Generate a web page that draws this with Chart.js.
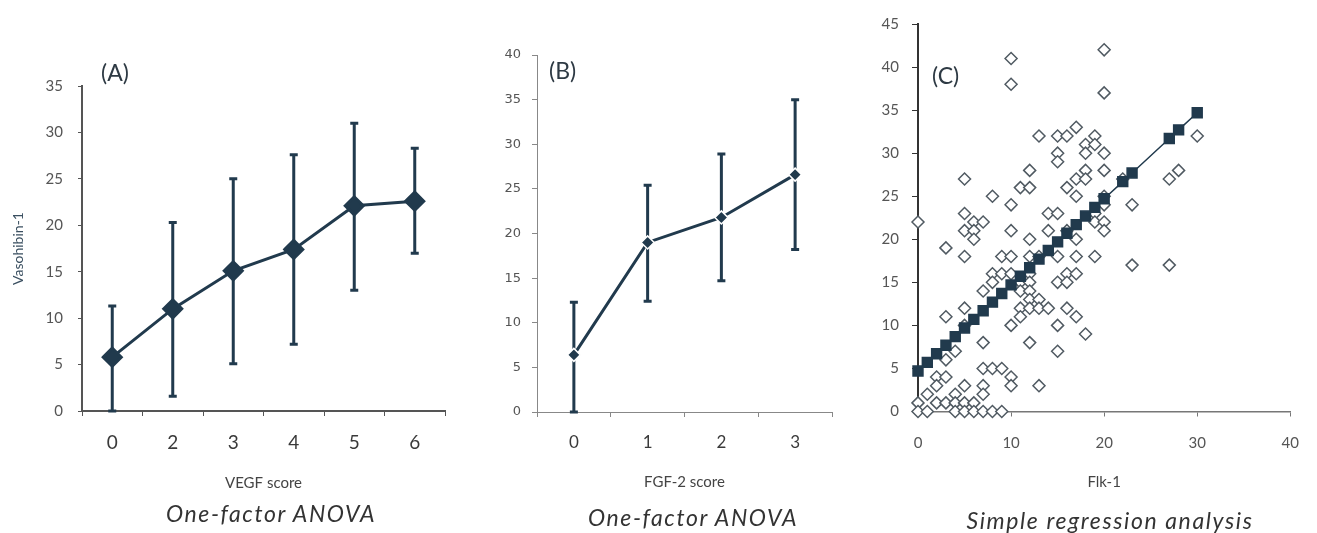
<!DOCTYPE html>
<html>
<head>
<meta charset="utf-8">
<script src="https://cdn.jsdelivr.net/npm/chart.js@4/dist/chart.umd.min.js"></script>
<style>
  body { margin: 0; background: #fff; }
  #wrap { position: relative; width: 1317px; height: 533px; overflow: hidden; }
  canvas { position: absolute; top: 0; }
  .lbl { position: absolute; font-family: Lato, sans-serif; color: #2e3a44; white-space: nowrap; }
  .panel { font-size: 23px; line-height: 26px; }
  .cap { font-size: 23px; line-height: 26px; font-style: italic; color: #333; letter-spacing: 1.6px; transform: translateX(-50%); }
</style>
</head>
<body>
<div id="wrap">
  <canvas id="chartA" width="460" height="500" style="left:0px"></canvas>
  <canvas id="chartB" width="390" height="500" style="left:460px"></canvas>
  <canvas id="chartC" width="447" height="500" style="left:870px"></canvas>
  <div class="lbl panel" style="left:101px;top:59px">(A)</div>
  <div class="lbl panel" style="left:549px;top:57px">(B)</div>
  <div class="lbl panel" style="left:932px;top:62px">(C)</div>
  <div class="lbl cap" style="left:271px;top:500px">One-factor ANOVA</div>
  <div class="lbl cap" style="left:693px;top:504px">One-factor ANOVA</div>
  <div class="lbl cap" style="left:1110px;top:507px">Simple regression analysis</div>
</div>
<script>
// (A) VEGF score vs Vasohibin-1
const vegfScores = ['0', '2', '3', '4', '5', '6'];
const vegfMean = [5.8, 11.0, 15.1, 17.4, 22.1, 22.6];
const vegfLow  = [0.0, 1.6, 5.1, 7.2, 13.0, 17.0];
const vegfHigh = [11.3, 20.3, 25.0, 27.6, 31.0, 28.3];

// (B) FGF-2 score vs Vasohibin-1
const fgfScores = ['0', '1', '2', '3'];
const fgfMean = [6.4, 19.0, 21.8, 26.6];
const fgfLow  = [0.0, 12.4, 14.7, 18.2];
const fgfHigh = [12.3, 25.4, 28.9, 35.0];

// (C) Flk-1 vs Vasohibin-1, one entry per case
const flkX = [
  10, 10, 20, 20,
  13, 15, 16, 17, 19, 18, 19, 15, 18, 20, 15,
  12, 18, 20, 5, 17, 18, 22, 27, 11, 12, 16,
  8, 17, 20, 10, 20, 23, 5, 14, 15, 19,
  0, 6, 7, 19, 20, 5, 6, 10, 14, 16, 20,
  6, 12, 17, 3, 5, 9, 10, 12, 13, 15, 17, 19,
  30, 28, 27, 23,
  8, 9, 10, 12, 16, 17, 8, 11, 12, 15, 16,
  7, 11, 12, 12, 13, 5, 11, 12, 13, 14, 16,
  3, 11, 17, 5, 10, 15, 18, 7, 12, 4, 15, 3,
  7, 8, 9, 2, 3, 10, 2, 5, 7, 10, 13,
  1, 4, 7, 0, 2, 3, 4, 5, 6,
  0, 1, 4, 5, 6, 7, 8, 9
];
const vasoY = [
  41, 38, 42, 37,
  32, 32, 32, 33, 32, 31, 31, 30, 30, 30, 29,
  28, 28, 28, 27, 27, 27, 27, 27, 26, 26, 26,
  25, 25, 25, 24, 24, 24, 23, 23, 23, 23,
  22, 22, 22, 22, 22, 21, 21, 21, 21, 21, 21,
  20, 20, 20, 19, 18, 18, 18, 18, 18, 18, 18, 18,
  32, 28, 17, 17,
  16, 16, 16, 16, 16, 16, 15, 15, 15, 15, 15,
  14, 14, 14, 13, 13, 12, 12, 12, 12, 12, 12,
  11, 11, 11, 10, 10, 10, 9, 8, 8, 7, 7, 6,
  5, 5, 5, 4, 4, 4, 3, 3, 3, 3, 3,
  2, 2, 2, 1, 1, 1, 1, 1, 1,
  0, 0, 0, 0, 0, 0, 0, 0
];

// fitted regression line
const fitX = [0, 1, 2, 3, 4, 5, 6, 7, 8, 9, 10, 11, 12, 13, 14, 15, 16, 17, 18, 19, 20, 22, 23, 27, 28, 30];
const fitY = [4.7, 5.7, 6.7, 7.7, 8.7, 9.7, 10.7, 11.7, 12.7, 13.7, 14.7, 15.7, 16.7, 17.7, 18.7, 19.7, 20.7, 21.7, 22.7, 23.7, 24.7, 26.7, 27.7, 31.7, 32.7, 34.7];

const ink = '#213a4d';
const tickGrey = '#555';

// draws vertical error bars under the points, using the chart's own y scale
const errorBars = {
  id: 'errorBars',
  beforeDatasetsDraw(chart, args, opts) {
    const ctx = chart.ctx;
    const yScale = chart.scales.y;
    const meta = chart.getDatasetMeta(0);
    ctx.save();
    ctx.strokeStyle = opts.color;
    ctx.lineWidth = opts.width;
    meta.data.forEach((pt, i) => {
      const top = yScale.getPixelForValue(opts.high[i]);
      const bot = yScale.getPixelForValue(opts.low[i]);
      ctx.beginPath();
      ctx.moveTo(pt.x, top);
      ctx.lineTo(pt.x, bot);
      ctx.moveTo(pt.x - opts.cap, top);
      ctx.lineTo(pt.x + opts.cap, top);
      ctx.moveTo(pt.x - opts.cap, bot);
      ctx.lineTo(pt.x + opts.cap, bot);
      ctx.stroke();
    });
    ctx.restore();
  }
};

function fixedSize(w) { return s => { s.width = w; }; }
function fixedHeight(h) { return s => { s.height = h; }; }

// ---------- (A)
new Chart(document.getElementById('chartA'), {
  type: 'line',
  data: {
    labels: vegfScores,
    datasets: [{
      data: vegfMean,
      borderColor: ink,
      borderWidth: 3,
      backgroundColor: ink,
      pointStyle: 'rectRot',
      pointRadius: 9,
      pointBorderColor: ink,
      pointBackgroundColor: ink
    }]
  },
  options: {
    responsive: false,
    animation: false,
    layout: { padding: { top: 86, right: 15, left: 0, bottom: 0 } },
    plugins: {
      legend: { display: false },
      tooltip: { enabled: false },
      errorBars: { low: vegfLow, high: vegfHigh, color: ink, width: 3, cap: 4 }
    },
    scales: {
      x: {
        offset: true,
        grid: { offset: true, drawOnChartArea: false, tickLength: 5, color: tickGrey },
        border: { color: tickGrey, width: 2 },
        ticks: { color: '#3a3a3a', padding: 15, font: { family: 'Lato', size: 19 } },
        title: { display: true, text: 'VEGF score', color: '#444', font: { family: 'Lato', size: 15 }, padding: { top: 0, bottom: 8 } },
        afterFit: fixedHeight(89)
      },
      y: {
        min: 0, max: 35,
        grid: { drawOnChartArea: false, tickLength: 4, color: tickGrey },
        border: { color: tickGrey, width: 2 },
        ticks: { stepSize: 5, color: tickGrey, padding: 15, font: { family: 'Lato', size: 15 } },
        title: { display: true, text: 'Vasohibin-1', color: '#3a4f60', font: { family: 'Lato', size: 14 }, padding: { top: 10, bottom: 0 } },
        afterFit: fixedSize(82)
      }
    }
  },
  plugins: [errorBars]
});

// ---------- (B)
new Chart(document.getElementById('chartB'), {
  type: 'line',
  data: {
    labels: fgfScores,
    datasets: [{
      data: fgfMean,
      borderColor: ink,
      borderWidth: 3,
      pointStyle: 'rectRot',
      pointRadius: 6.5,
      pointBorderWidth: 1.5,
      pointBorderColor: '#fff',
      pointBackgroundColor: ink
    }]
  },
  options: {
    responsive: false,
    animation: false,
    layout: { padding: { top: 55, right: 18, left: 0, bottom: 0 } },
    plugins: {
      legend: { display: false },
      tooltip: { enabled: false },
      errorBars: { low: fgfLow, high: fgfHigh, color: ink, width: 3, cap: 4 }
    },
    scales: {
      x: {
        offset: true,
        grid: { offset: true, drawOnChartArea: false, tickLength: 5, color: '#888' },
        border: { color: '#888', width: 1 },
        ticks: { color: '#3a3a3a', padding: 15, font: { family: 'Lato', size: 17 } },
        title: { display: true, text: 'FGF-2 score', color: '#444', font: { family: 'Lato', size: 15 }, padding: { top: 0, bottom: 9 } },
        afterFit: fixedHeight(88)
      },
      y: {
        min: 0, max: 40,
        grid: { drawOnChartArea: false, tickLength: 5, color: '#888' },
        border: { color: '#888', width: 1 },
        ticks: { stepSize: 5, color: tickGrey, padding: 11, font: { family: 'DejaVu Sans', size: 13 } },
        afterFit: fixedSize(77)
      }
    }
  },
  plugins: [errorBars]
});

// ---------- (C)
new Chart(document.getElementById('chartC'), {
  type: 'scatter',
  data: {
    datasets: [{
      data: fitX.map((x, i) => ({ x: x, y: fitY[i] })),
      showLine: true,
      clip: false,
      borderColor: ink,
      borderWidth: 1.5,
      pointStyle: 'rect',
      pointRadius: 7,
      pointBorderColor: ink,
      pointBackgroundColor: ink,
      order: 0
    }, {
      data: flkX.map((x, i) => ({ x: x, y: vasoY[i] })),
      clip: false,
      pointStyle: 'rectRot',
      pointRadius: 6,
      pointBorderWidth: 1.5,
      pointBorderColor: '#505a62',
      pointBackgroundColor: '#fff',
      order: 1
    }]
  },
  options: {
    responsive: false,
    animation: false,
    layout: { padding: { top: 24, right: 12, left: 0, bottom: 0 } },
    plugins: { legend: { display: false }, tooltip: { enabled: false } },
    scales: {
      x: {
        type: 'linear',
        min: 0, max: 40,
        grid: { drawOnChartArea: false, tickLength: 5, color: '#777' },
        border: { color: '#777', width: 1.5 },
        ticks: { stepSize: 10, color: tickGrey, padding: 18, font: { family: 'Lato', size: 15 } },
        title: { display: true, text: 'Flk-1', color: '#444', font: { family: 'Lato', size: 15 }, padding: { top: 0, bottom: 9 } },
        afterFit: fixedHeight(88.5)
      },
      y: {
        min: 0, max: 45,
        grid: { drawOnChartArea: false, tickLength: 6, color: '#333' },
        border: { color: '#333', width: 2 },
        ticks: { stepSize: 5, color: tickGrey, padding: 13, font: { family: 'Lato', size: 15 } },
        afterFit: fixedSize(48)
      }
    }
  }
});
</script>
</body>
</html>
